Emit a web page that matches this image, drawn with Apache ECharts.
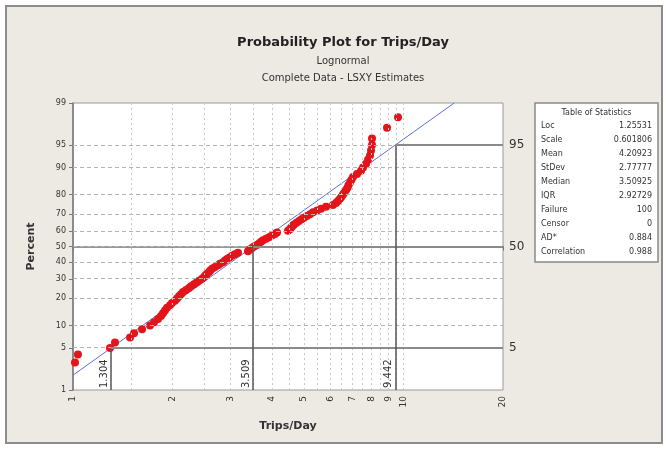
<!DOCTYPE html>
<html>
<head>
<meta charset="utf-8">
<script src="https://cdn.jsdelivr.net/npm/echarts@6/dist/echarts.min.js"></script>
<style>
  html, body { margin: 0; padding: 0; background: #fff; }
  #chart { width: 666px; height: 449px; }
</style>
</head>
<body>
<div id="chart"></div>
<script>
// values
var tripsPerDay = [1.014, 1.035, 1.294, 1.34, 1.488, 1.530, 1.618, 1.710, 1.759, 1.808,
  1.846, 1.872, 1.898, 1.925, 1.966, 1.993, 2.035, 2.064, 2.093, 2.122,
  2.152, 2.197, 2.244, 2.275, 2.323, 2.364, 2.406, 2.457, 2.491, 2.517,
  2.544, 2.580, 2.606, 2.643, 2.690, 2.747, 2.785, 2.844, 2.884, 2.924,
  2.975, 3.027, 3.091, 3.157, 3.384, 3.432, 3.480, 3.529, 3.604, 3.654,
  3.706, 3.758, 3.837, 3.918, 4.000, 4.085, 4.142, 4.473, 4.536, 4.567,
  4.615, 4.663, 4.746, 4.829, 4.914, 5.000, 5.106, 5.214, 5.324, 5.475,
  5.629, 5.829, 6.118, 6.248, 6.336, 6.425, 6.492, 6.560, 6.629, 6.699,
  6.769, 6.816, 6.887, 6.960, 7.033, 7.234, 7.438, 7.543, 7.702, 7.810,
  7.920, 7.975, 8.030, 8.030, 8.915, 9.625];
var percents = [3, 4, 5, 6, 7, 8, 9, 10, 11, 12,
  13, 14, 15, 16, 17, 18, 19, 20, 21, 22,
  23, 24, 25, 26, 27, 28, 29, 30, 31, 32,
  33, 34, 35, 36, 37, 38, 39, 40, 41, 42,
  43, 44, 45, 46, 47, 48, 49, 50, 51, 52,
  53, 54, 55, 56, 57, 58, 59, 60, 61, 62,
  63, 64, 65, 66, 67, 68, 69, 70, 71, 72,
  73, 74, 75, 76, 77, 78, 79, 80, 81, 82,
  83, 84, 85, 86, 87, 88, 89, 90, 91, 92,
  93, 94, 95, 96, 97.3, 98.2];

var pctTicks = [1, 5, 10, 20, 30, 40, 50, 60, 70, 80, 90, 95, 99];
var pctGrid = [5, 10, 20, 30, 40, 50, 60, 70, 80, 90, 95];
var xTicks = [1, 2, 3, 4, 5, 6, 7, 8, 9, 10, 20];
var xGrid = [1.5, 2, 2.5, 3, 3.5, 4, 4.5, 5, 5.5, 6, 6.5, 7, 7.5, 8, 8.5, 9, 9.5, 10];
var refPercents = [5, 50, 95];

var fitLoc = 1.25531;
var fitScale = 0.601806;

var statNames = ['Loc', 'Scale', 'Mean', 'StDev', 'Median', 'IQR', 'Failure', 'Censor', 'AD*', 'Correlation'];
var statValues = ['1.25531', '0.601806', '4.20923', '2.77777', '3.50925', '2.92729', '100', '0', '0.884', '0.988'];

// inverse normal cdf (Acklam)
function probit(p) {
  var a = [-3.969683028665376e+01, 2.209460984245205e+02, -2.759285104469687e+02, 1.383577518672690e+02, -3.066479806614716e+01, 2.506628277459239e+00];
  var b = [-5.447609879822406e+01, 1.615858368580409e+02, -1.556989798598866e+02, 6.680131188771972e+01, -1.328068155288572e+01];
  var c = [-7.784894002430293e-03, -3.223964580411365e-01, -2.400758277161838e+00, -2.549671010050825e+00, 4.374664141464968e+00, 2.938163982698783e+00];
  var d = [7.784695709041462e-03, 3.224671290700398e-01, 2.445134137142996e+00, 3.754408661907416e+00];
  var q, r;
  if (p < 0.02425) {
    q = Math.sqrt(-2 * Math.log(p));
    return (((((c[0]*q+c[1])*q+c[2])*q+c[3])*q+c[4])*q+c[5]) / ((((d[0]*q+d[1])*q+d[2])*q+d[3])*q+1);
  }
  if (p > 1 - 0.02425) {
    q = Math.sqrt(-2 * Math.log(1 - p));
    return -(((((c[0]*q+c[1])*q+c[2])*q+c[3])*q+c[4])*q+c[5]) / ((((d[0]*q+d[1])*q+d[2])*q+d[3])*q+1);
  }
  q = p - 0.5; r = q * q;
  return (((((a[0]*r+a[1])*r+a[2])*r+a[3])*r+a[4])*r+a[5])*q / (((((b[0]*r+b[1])*r+b[2])*r+b[3])*r+b[4])*r+1);
}

var zMin = probit(0.01);
var zMax = probit(0.99);
var zTicks = pctTicks.map(function (p) { return probit(p / 100); });
var xAtZ = function (z) { return Math.exp(fitLoc + fitScale * z); };

var font = 'DejaVu Sans';
var myChart = echarts.init(document.getElementById('chart'));

var gridLines = [];
pctGrid.forEach(function (p) {
  gridLines.push({ yAxis: probit(p / 100), lineStyle: { type: [4, 3], color: '#b4b4b4' } });
});
xGrid.forEach(function (v) {
  gridLines.push({ xAxis: v, lineStyle: { type: [2, 3], color: '#c8c8c8' } });
});

var refLines = [];
refPercents.forEach(function (p) {
  var z = probit(p / 100);
  var xp = xAtZ(z);
  refLines.push([
    { coord: [xp, zMin], lineStyle: { type: 'solid', color: '#555', width: 1.5 },
      label: { show: true, position: 'insideStartTop', formatter: xp.toFixed(3), fontSize: 10, color: '#333', fontFamily: font, distance: 2 } },
    { coord: [xp, z] }
  ]);
  refLines.push([
    { coord: [xp, z], lineStyle: { type: 'solid', color: '#8a8a8a', width: 2 },
      label: { show: true, position: 'end', formatter: String(p), fontSize: 12, color: '#333', fontFamily: font, distance: 6 } },
    { coord: [20, z] }
  ]);
});

var tableX = 535, tableY = 103, tableW = 123, tableH = 159;
var tableItems = [
  { type: 'rect', shape: { x: tableX, y: tableY, width: tableW, height: tableH },
    style: { fill: '#fff', stroke: '#8a8a8a', lineWidth: 1.5 } },
  { type: 'text', x: tableX + tableW / 2, y: tableY + 10,
    style: { text: 'Table of Statistics', fill: '#333', font: '8px ' + font, textAlign: 'center', textVerticalAlign: 'middle' } }
];
statNames.forEach(function (name, i) {
  var y = tableY + 23 + i * 14;
  tableItems.push({ type: 'text', x: tableX + 6, y: y,
    style: { text: name, fill: '#333', font: '8px ' + font, textAlign: 'left', textVerticalAlign: 'middle' } });
  tableItems.push({ type: 'text', x: tableX + tableW - 6, y: y,
    style: { text: statValues[i], fill: '#333', font: '8px ' + font, textAlign: 'right', textVerticalAlign: 'middle' } });
});

myChart.setOption({
  animation: false,
  backgroundColor: '#fff',
  title: [
    { text: 'Probability Plot for Trips/Day', left: 338, top: 31, textAlign: 'center',
      textStyle: { fontFamily: font, fontSize: 13, fontWeight: 'bold', color: '#222' } },
    { text: 'Lognormal', left: 338, top: 51, textAlign: 'center',
      textStyle: { fontFamily: font, fontSize: 10, fontWeight: 'normal', color: '#333' } },
    { text: 'Complete Data - LSXY Estimates', left: 338, top: 68, textAlign: 'center',
      textStyle: { fontFamily: font, fontSize: 10, fontWeight: 'normal', color: '#333' } }
  ],
  graphic: [
    { type: 'rect', z: -10, shape: { x: 6, y: 6, width: 656, height: 437 },
      style: { fill: '#edeae3', stroke: '#8c8c8c', lineWidth: 2 } },
    { type: 'group', children: tableItems }
  ],
  grid: {
    left: 73, top: 103, width: 430, height: 287,
    show: true, backgroundColor: '#fff', borderColor: '#9a9a9a', borderWidth: 1
  },
  xAxis: {
    type: 'log', logBase: 10, min: 1, max: 20,
    name: 'Trips/Day', nameLocation: 'middle', nameGap: 31,
    nameTextStyle: { fontFamily: font, fontSize: 11, fontWeight: 'bold', color: '#333' },
    axisLine: { lineStyle: { color: '#777', width: 1.5 } },
    axisTick: { customValues: xTicks, length: 4, lineStyle: { color: '#777' } },
    axisLabel: { customValues: xTicks, rotate: 90, fontSize: 9, color: '#333', fontFamily: font, margin: 6,
      formatter: function (v) { return String(Math.round(v)); } },
    splitLine: { show: false },
    minorTick: { show: false }
  },
  yAxis: {
    type: 'value', min: zMin, max: zMax,
    name: 'Percent', nameLocation: 'middle', nameGap: 36,
    nameTextStyle: { fontFamily: font, fontSize: 11, fontWeight: 'bold', color: '#333' },
    axisLine: { show: true, lineStyle: { color: '#777', width: 1.5 } },
    axisTick: { customValues: zTicks, length: 4, lineStyle: { color: '#777' } },
    axisLabel: { customValues: zTicks, fontSize: 8, color: '#333', fontFamily: font, margin: 7,
      formatter: function (v) {
        for (var i = 0; i < zTicks.length; i++) {
          if (Math.abs(zTicks[i] - v) < 1e-6) return String(pctTicks[i]);
        }
        return '';
      } },
    splitLine: { show: false }
  },
  series: [
    {
      type: 'line', data: [], z: 1, silent: true,
      markLine: { silent: true, symbol: 'none', label: { show: false }, lineStyle: { width: 1 }, data: gridLines }
    },
    {
      type: 'line', data: [], z: 2, silent: true,
      markLine: { silent: true, symbol: 'none', data: refLines }
    },
    {
      type: 'line', z: 3, showSymbol: false, silent: true,
      lineStyle: { color: '#5b6fe0', width: 1 },
      data: [[1, (0 - fitLoc) / fitScale], [xAtZ(zMax), zMax]]
    },
    {
      type: 'scatter', z: 4, symbolSize: 8,
      itemStyle: { color: '#e3141a', opacity: 1 },
      data: tripsPerDay.map(function (v, i) { return [v, probit(percents[i] / 100)]; })
    }
  ]
});
</script>
</body>
</html>
